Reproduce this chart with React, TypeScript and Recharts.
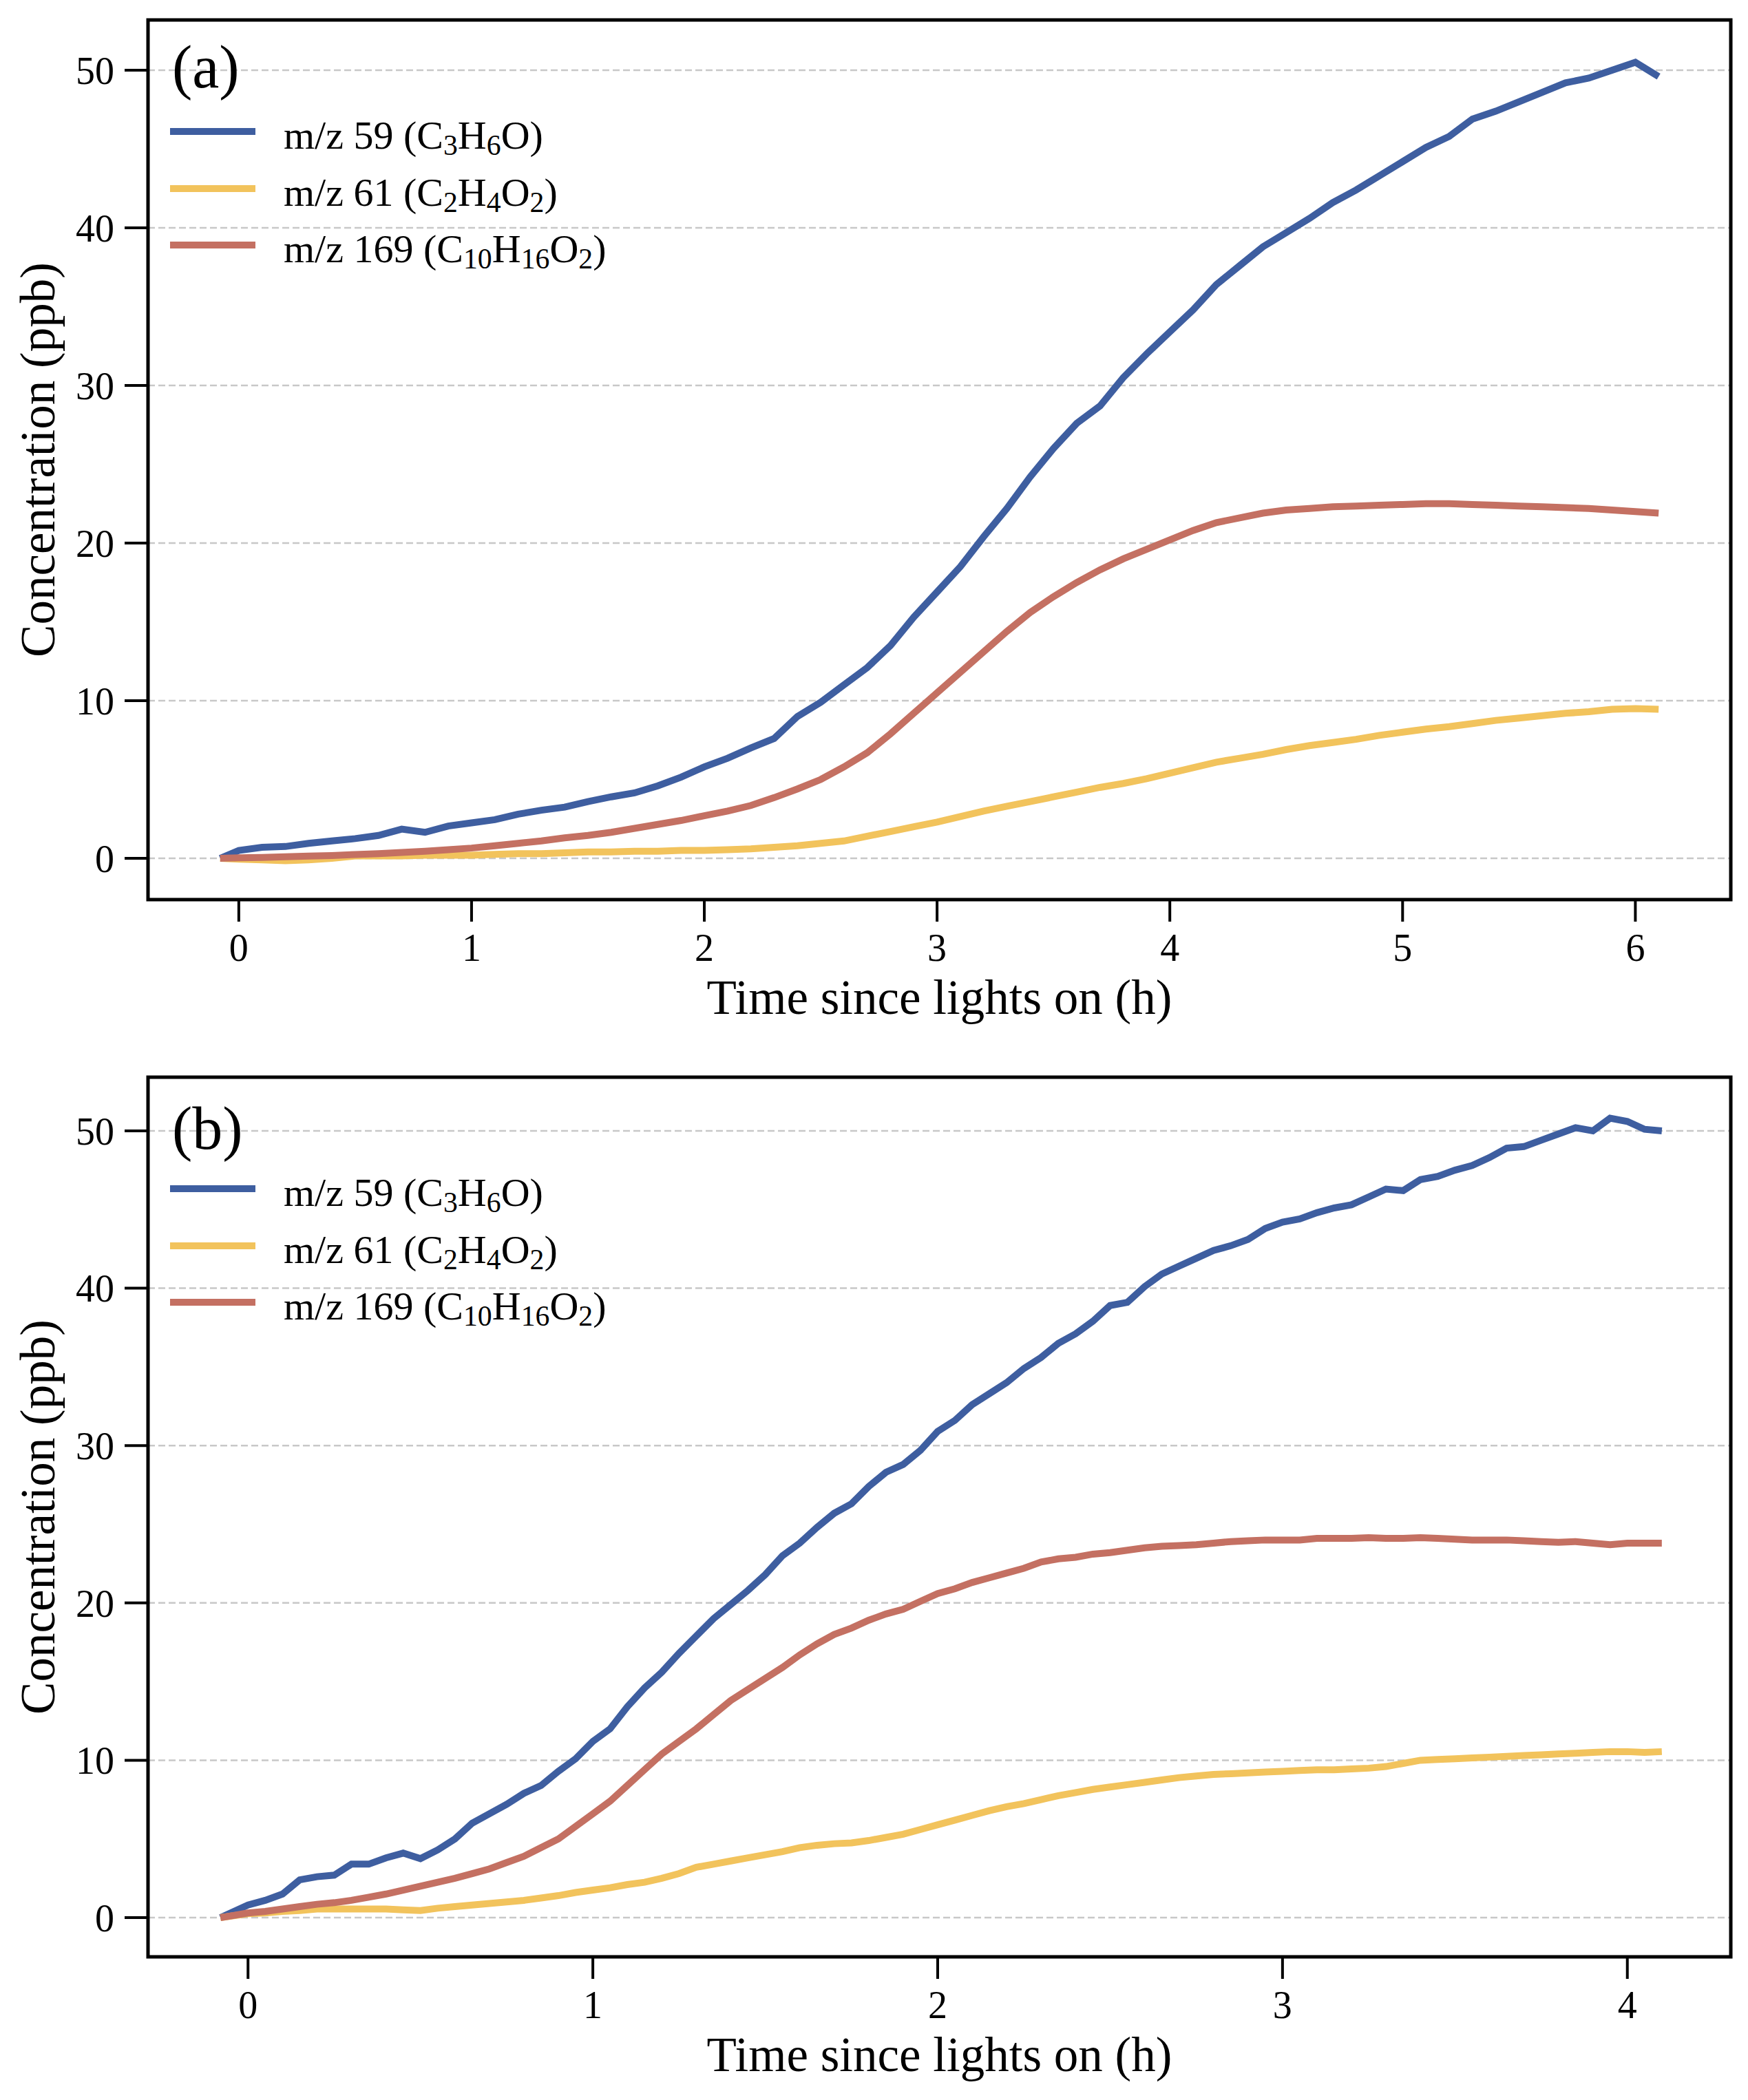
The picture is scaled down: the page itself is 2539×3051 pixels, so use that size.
import React from 'react';
import { LineChart, Line, XAxis, YAxis, CartesianGrid, ReferenceArea, Legend, Label } from 'recharts';

const FONT = '"Liberation Serif", "Times New Roman", Times, serif';
const BLUE = '#3E5EA0';
const YELLOW = '#F2C35C';
const RED = '#C47062';

// ---------- Panel (a) ----------
const timeA: number[] = [-0.08, ...Array.from({ length: 62 }, (_, i) => Math.round(i * 10) / 100)];
const blueA = [0.0,
  0.5, 0.7, 0.75, 0.95, 1.1, 1.25, 1.45, 1.85, 1.65, 2.05,
  2.25, 2.45, 2.8, 3.05, 3.25, 3.6, 3.9, 4.15, 4.6, 5.15,
  5.8, 6.35, 7.0, 7.6, 9.0, 9.9, 11.0, 12.1, 13.5, 15.3,
  16.9, 18.5, 20.4, 22.2, 24.2, 26.0, 27.6, 28.7, 30.5, 32.0,
  33.4, 34.8, 36.4, 37.6, 38.8, 39.7, 40.6, 41.6, 42.4, 43.3,
  44.2, 45.1, 45.8, 46.9, 47.4, 48.0, 48.6, 49.2, 49.5, 50.0,
  50.5, 49.6];
const yellowA = [0,
  -0.05, -0.1, -0.15, -0.1, 0.0, 0.15, 0.15, 0.15, 0.2, 0.2,
  0.2, 0.25, 0.3, 0.3, 0.35, 0.4, 0.4, 0.45, 0.45, 0.5,
  0.5, 0.55, 0.6, 0.7, 0.8, 0.95, 1.1, 1.4, 1.7, 2.0,
  2.3, 2.65, 3.0, 3.3, 3.6, 3.9, 4.2, 4.5, 4.75, 5.05,
  5.4, 5.75, 6.1, 6.35, 6.6, 6.9, 7.15, 7.35, 7.55, 7.8,
  8.0, 8.2, 8.35, 8.55, 8.75, 8.9, 9.05, 9.2, 9.3, 9.45,
  9.5, 9.45];
const redA = [0,
  0.03, 0.06, 0.1, 0.14, 0.18, 0.24, 0.3, 0.37, 0.45, 0.55,
  0.65, 0.8, 0.95, 1.1, 1.3, 1.45, 1.65, 1.9, 2.15, 2.4,
  2.7, 3.0, 3.35, 3.85, 4.4, 5.0, 5.8, 6.7, 7.9, 9.2,
  10.5, 11.8, 13.1, 14.4, 15.6, 16.6, 17.5, 18.3, 19.0, 19.6,
  20.2, 20.8, 21.3, 21.6, 21.9, 22.1, 22.2, 22.3, 22.35, 22.4,
  22.45, 22.5, 22.5, 22.45, 22.4, 22.35, 22.3, 22.25, 22.2, 22.1,
  22.0, 21.9];

// ---------- Panel (b) ----------
const timeB: number[] = [-0.08, ...Array.from({ length: 83 }, (_, i) => Math.round(i * 5) / 100)];
const blueB = [0.0,
  0.8, 1.1, 1.5, 2.4, 2.6, 2.7, 3.4, 3.4, 3.8, 4.1,
  3.75, 4.3, 5.0, 6.0, 6.6, 7.2, 7.9, 8.4, 9.3, 10.1,
  11.2, 12.0, 13.4, 14.6, 15.6, 16.8, 17.9, 19.0, 19.9, 20.8,
  21.8, 23.0, 23.8, 24.8, 25.7, 26.3, 27.4, 28.3, 28.8, 29.7,
  30.9, 31.6, 32.6, 33.3, 34.0, 34.9, 35.6, 36.5, 37.1, 37.9,
  38.9, 39.1, 40.1, 40.9, 41.4, 41.9, 42.4, 42.7, 43.1, 43.8,
  44.2, 44.4, 44.8, 45.1, 45.3, 45.8, 46.3, 46.2, 46.9, 47.1,
  47.5, 47.8, 48.3, 48.9, 49.0, 49.4, 49.8, 50.2, 50.0, 50.8,
  50.6, 50.1, 50.0];
const yellowB = [0,
  0.25, 0.3, 0.4, 0.45, 0.55, 0.55, 0.55, 0.55, 0.55, 0.5,
  0.45, 0.6, 0.7, 0.8, 0.9, 1.0, 1.1, 1.25, 1.4, 1.6,
  1.75, 1.9, 2.1, 2.25, 2.5, 2.8, 3.2, 3.4, 3.6, 3.8,
  4.0, 4.2, 4.45, 4.6, 4.7, 4.75, 4.9, 5.1, 5.3, 5.6,
  5.9, 6.2, 6.5, 6.8, 7.05, 7.25, 7.5, 7.75, 7.95, 8.15,
  8.3, 8.45, 8.6, 8.75, 8.9, 9.0, 9.1, 9.15, 9.2, 9.25,
  9.3, 9.35, 9.4, 9.4, 9.45, 9.5, 9.6, 9.8, 10.0, 10.05,
  10.1, 10.15, 10.2, 10.25, 10.3, 10.35, 10.4, 10.45, 10.5, 10.55,
  10.55, 10.5, 10.55];
const redB = [0,
  0.3, 0.4, 0.55, 0.7, 0.85, 0.95, 1.1, 1.3, 1.5, 1.75,
  2.0, 2.25, 2.5, 2.8, 3.1, 3.5, 3.9, 4.45, 5.0, 5.8,
  6.6, 7.4, 8.4, 9.4, 10.4, 11.2, 12.0, 12.9, 13.8, 14.5,
  15.2, 15.9, 16.7, 17.4, 18.0, 18.4, 18.9, 19.3, 19.6, 20.1,
  20.6, 20.9, 21.3, 21.6, 21.9, 22.2, 22.6, 22.8, 22.9, 23.1,
  23.2, 23.35, 23.5, 23.6, 23.65, 23.7, 23.8, 23.9, 23.95, 24.0,
  24.0, 24.0, 24.1, 24.1, 24.1, 24.15, 24.1, 24.1, 24.15, 24.1,
  24.05, 24.0, 24.0, 24.0, 23.95, 23.9, 23.85, 23.9, 23.8, 23.7,
  23.8, 23.8, 23.8];

const yTicks = [0, 10, 20, 30, 40, 50];
const xTicksA = [0, 1, 2, 3, 4, 5, 6];
const xTicksB = [0, 1, 2, 3, 4];
const SERIES_ORDER = ['m59', 'm61', 'm169'];

const buildRows = (t: number[], b: number[], y: number[], r: number[]) =>
  t.map((tt, i) => ({ t: tt, m59: b[i], m61: y[i], m169: r[i] }));

const rowsA = buildRows(timeA, blueA, yellowA, redA);
const rowsB = buildRows(timeB, blueB, yellowB, redB);

const subStyle: React.CSSProperties = { fontSize: '0.72em', verticalAlign: '-0.22em', lineHeight: 0 };
const LEGEND_TEXT: Record<string, React.ReactNode> = {
  m59: <>m/z 59 (C<sub style={subStyle}>3</sub>H<sub style={subStyle}>6</sub>O)</>,
  m61: <>m/z 61 (C<sub style={subStyle}>2</sub>H<sub style={subStyle}>4</sub>O<sub style={subStyle}>2</sub>)</>,
  m169: <>m/z 169 (C<sub style={subStyle}>10</sub>H<sub style={subStyle}>16</sub>O<sub style={subStyle}>2</sub>)</>,
};

const renderLegend = (props: any) => {
  const payload = [...(props.payload || [])].sort(
    (a: any, b: any) => SERIES_ORDER.indexOf(a.value) - SERIES_ORDER.indexOf(b.value)
  );
  return (
    <div style={{ fontFamily: FONT, fontSize: 58, color: '#000' }}>
      {payload.map((p: any) => (
        <div key={p.value} style={{ display: 'flex', alignItems: 'center', height: 82.5 }}>
          <div style={{ width: 124, height: 10, background: p.color, marginRight: 41 }} />
          <span style={{ position: 'relative', top: 6, whiteSpace: 'nowrap', lineHeight: 1 }}>
            {LEGEND_TEXT[p.value]}
          </span>
        </div>
      ))}
    </div>
  );
};

const tickStyle = { fill: '#000', fontSize: 56, fontFamily: FONT };

type PanelProps = {
  rows: any[];
  height: number;
  marginTop: number;
  xDomain: [number, number];
  yDomain: [number, number];
  xTicks: number[];
  tag: string;
  tagY: number;
  legendTop: number;
};

const PLOT_H = 1278;

function Panel({ rows, height, marginTop, xDomain, yDomain, xTicks, tag, tagY, legendTop }: PanelProps) {
  const xAxisH = height - marginTop - PLOT_H;
  const plotBottom = marginTop + PLOT_H;
  const plotCx = (215 + 2514) / 2;
  const plotCy = marginTop + PLOT_H / 2;
  return (
    <LineChart width={2539} height={height} data={rows} margin={{ top: marginTop, right: 25, bottom: 0, left: 0 }}>
      <CartesianGrid vertical={false} stroke="#c8c8c8" strokeDasharray="10 5" strokeWidth={2.5} />
      <XAxis
        dataKey="t"
        type="number"
        domain={xDomain}
        ticks={xTicks}
        interval={0}
        allowDataOverflow
        axisLine={false}
        tickLine={{ stroke: '#000', strokeWidth: 4 }}
        tickSize={32}
        tickMargin={17}
        height={xAxisH}
        tick={tickStyle}
      >
        <Label
          content={() => (
            <text x={plotCx} y={plotBottom + 166} textAnchor="middle" fontFamily={FONT} fontSize={71} fill="#000">
              Time since lights on (h)
            </text>
          )}
        />
      </XAxis>
      <YAxis
        type="number"
        domain={yDomain}
        ticks={yTicks}
        interval={0}
        allowDataOverflow
        axisLine={false}
        tickLine={{ stroke: '#000', strokeWidth: 4 }}
        tickSize={34}
        tickMargin={15}
        width={215}
        tick={tickStyle}
      >
        <Label
          content={() => (
            <text
              x={79}
              y={plotCy}
              textAnchor="middle"
              fontFamily={FONT}
              fontSize={71}
              fill="#000"
              transform={`rotate(-90, 79, ${plotCy})`}
            >
              Concentration (ppb)
            </text>
          )}
        />
      </YAxis>
      <ReferenceArea
        x1={xDomain[0]}
        x2={xDomain[1]}
        y1={yDomain[0]}
        y2={yDomain[1]}
        fill="none"
        fillOpacity={0}
        stroke="#000"
        strokeWidth={5}
        ifOverflow="visible"
      >
        <Label
          content={() => (
            <text x={250} y={tagY} fontFamily={FONT} fontSize={88} fill="#000">
              {tag}
            </text>
          )}
        />
      </ReferenceArea>
      <Line type="linear" dataKey="m59" name="m59" stroke={BLUE} strokeWidth={10} dot={false} isAnimationActive={false} />
      <Line type="linear" dataKey="m61" name="m61" stroke={YELLOW} strokeWidth={10} dot={false} isAnimationActive={false} />
      <Line type="linear" dataKey="m169" name="m169" stroke={RED} strokeWidth={10} dot={false} isAnimationActive={false} />
      <Legend
        layout="vertical"
        align="center"
        verticalAlign="middle"
        itemSorter={null as any}
        wrapperStyle={{ top: legendTop, left: 247, width: 'auto', height: 'auto' }}
        content={renderLegend}
      />
    </LineChart>
  );
}

export default function App() {
  return (
    <div style={{ position: 'absolute', left: 0, top: 0, width: 2539, height: 3051, background: '#fff' }}>
      <div style={{ position: 'absolute', left: 0, top: 0 }}>
        <Panel
          rows={rowsA}
          height={1530}
          marginTop={29}
          xDomain={[-0.39, 6.41]}
          yDomain={[-2.62, 53.19]}
          xTicks={xTicksA}
          tag="(a)"
          tagY={127}
          legendTop={150}
        />
      </div>
      <div style={{ position: 'absolute', left: 0, top: 1530 }}>
        <Panel
          rows={rowsB}
          height={1521}
          marginTop={35}
          xDomain={[-0.29, 4.3]}
          yDomain={[-2.49, 53.41]}
          xTicks={xTicksB}
          tag="(b)"
          tagY={139}
          legendTop={156}
        />
      </div>
    </div>
  );
}
